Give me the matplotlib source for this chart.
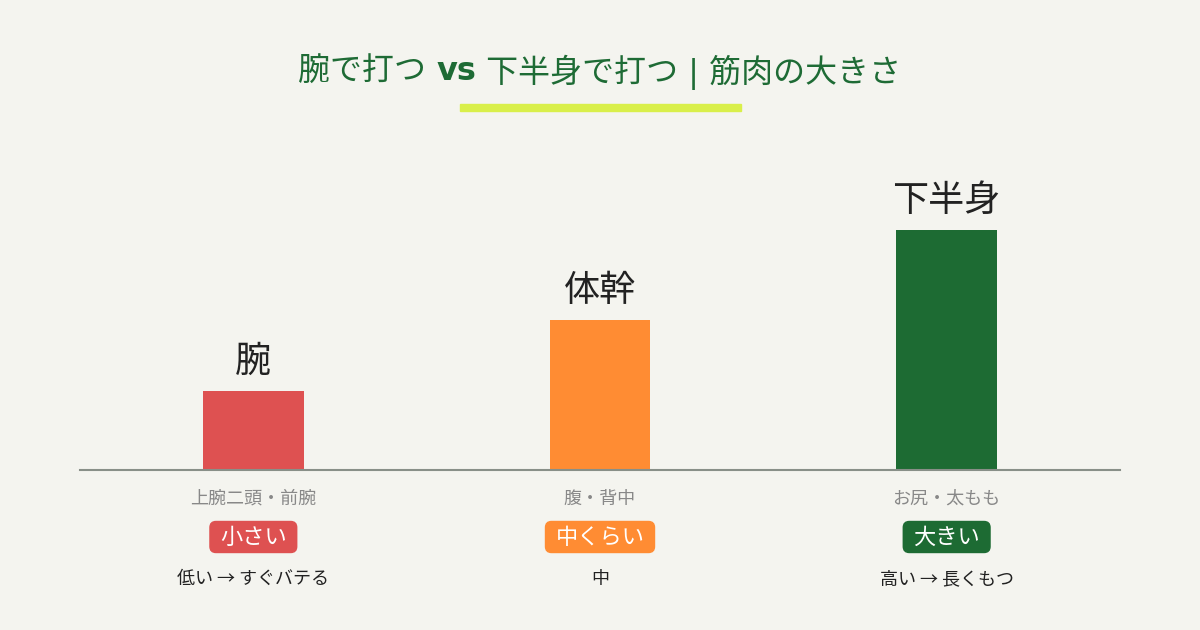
# 腕で打つ vs 下半身で打つ | 筋肉の大きさ
import matplotlib
matplotlib.use("Agg")
import matplotlib.pyplot as plt
from matplotlib.patches import FancyBboxPatch, Rectangle

plt.rcParams['font.family'] = ['Noto Sans CJK JP', 'DejaVu Sans']

# Data
parts = ["腕", "体幹", "下半身"]
muscle_size = [33, 62.5, 100]          # relative size (下半身 = 100)
muscles = ["上腕二頭・前腕", "腹・背中", "お尻・太もも"]
size_labels = ["小さい", "中くらい", "大きい"]
stamina = ["低い → すぐバテる", "中", "高い → 長くもつ"]
colors = ["#DE5151", "#FF8C33", "#1D6B33"]

BG = "#F4F4EF"
GREEN = "#1E6B35"

fig = plt.figure(figsize=(12, 6.3), dpi=100, facecolor=BG)
ax = fig.add_axes([80 / 1200, 160 / 630, 1040 / 1200, 320 / 630])
ax.set_facecolor(BG)

x = range(len(parts))
ax.bar(x, muscle_size, width=0.29, color=colors, zorder=2)
ax.set_xlim(-0.5, 2.5)
ax.set_ylim(0, 100 * 320 / 240)

for s in ["top", "left", "right"]:
    ax.spines[s].set_visible(False)
ax.spines["bottom"].set_color("#888f88")
ax.spines["bottom"].set_linewidth(1.5)
ax.set_xticks([])
ax.set_yticks([])

# labels above the bars
for i, v in enumerate(muscle_size):
    ax.annotate(parts[i], (i, v), xytext=(0, 11), textcoords="offset pixels",
                ha="center", va="bottom", fontsize=26, color="#222222")

# texts below the axis
badges = []
for i in x:
    ax.annotate(muscles[i], (i, 0), xycoords=("data", "axes fraction"),
                xytext=(0, -29), textcoords="offset pixels",
                ha="center", va="center", fontsize=13, color="#888888")
    t = ax.annotate(size_labels[i], (i, 0), xycoords=("data", "axes fraction"),
                    xytext=(0, -67), textcoords="offset pixels",
                    ha="center", va="center", fontsize=16, color="white", zorder=6)
    badges.append(t)
    ax.annotate(stamina[i], (i, 0), xycoords=("data", "axes fraction"),
                xytext=(0, -109), textcoords="offset pixels",
                ha="center", va="center", fontsize=13, color="#222222")

# title in three pieces (bold "vs")
title_font = ["DejaVu Sans", "Noto Sans CJK JP"]
pieces = [("腕で打つ ", "normal"), ("vs", "bold"), (" 下半身で打つ | 筋肉の大きさ", "normal")]
title_texts = [fig.text(0, 630 - 72, s, fontsize=23, fontweight=w, color=GREEN,
                        family=title_font, ha="left", va="center", transform=None)
               for s, w in pieces]

fig.canvas.draw()
r = fig.canvas.get_renderer()

widths = [t.get_window_extent(r).width for t in title_texts]
xpos = 600 - sum(widths) / 2
for t, w in zip(title_texts, widths):
    t.set_x(xpos)
    xpos += w

# underline
fig.patches.append(Rectangle((460, 630 - 111), 281, 7, color="#D9EF4A",
                             transform=None, figure=fig))

# badge backgrounds sized from the label text
for t, c in zip(badges, colors):
    bb = t.get_window_extent(r)
    cy = (bb.y0 + bb.y1) / 2
    p = FancyBboxPatch((bb.x0 - 4, cy - 9.5), bb.width + 8, 19,
                       boxstyle="round,pad=6,rounding_size=6",
                       color=c, transform=None, zorder=5, clip_on=False)
    ax.add_artist(p)

fig.savefig("out.png", dpi=100, facecolor=BG)
